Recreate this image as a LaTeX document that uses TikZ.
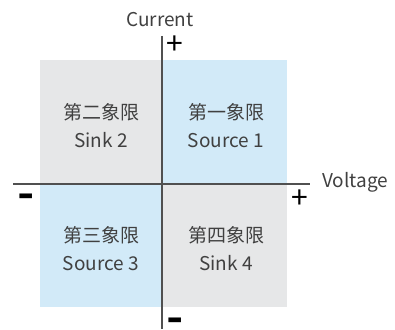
\documentclass[tikz,border=0pt]{standalone}
\usepackage{graphicx}
\usepackage{fontspec}
\setmainfont{Noto Sans CJK SC}
\definecolor{qgray}{HTML}{E6E7E8}
\definecolor{qblue}{HTML}{D2EAF8}
\definecolor{txt}{HTML}{404040}
\definecolor{axis}{HTML}{505050}
\newcommand{\bigminus}{\smash{\raisebox{-13pt}{\scalebox{1}[1.5]{–}}}}
\begin{document}
\begin{tikzpicture}[x=1pt,y=-1pt,
  lbl/.style={text=txt,font=\fontsize{19}{28}\selectfont,inner sep=0pt,align=center},
  plus/.style={text=black,font=\fontsize{30}{30}\selectfont,inner sep=0pt},
  minus/.style={text=black,font=\fontsize{28}{28}\selectfont\bfseries,inner sep=0pt},
  axisline/.style={draw=axis,line width=1.3pt}]
\useasboundingbox (0,0) rectangle (395,329);
\fill[qgray] (40,60) rectangle (162,184);
\fill[qblue] (162,60) rectangle (287,184);
\fill[qblue] (40,184) rectangle (162,307);
\fill[qgray] (162,184) rectangle (287,307);
\coordinate (ytop) at (162,36);
\coordinate (ybot) at (162,329);
\coordinate (xleft) at (13,184);
\coordinate (xright) at (310,184);
\draw[axisline] (ytop) -- (ybot);
\draw[axisline] (xleft) -- (xright);
\node[lbl] (cur) at (160,20) {Current};
\node[lbl] (volt) at (355,182) {Voltage};
\node[plus] (yplus) at (175,45) {+};
\node[plus] (xplus) at (300,199) {+};
\node[minus] (xminus) at (26,195.5) {\bigminus};
\node[minus] (yminus) at (175,319) {\bigminus};
\node[lbl] (q2) at (101,126) {第二象限\\Sink 2};
\node[lbl] (q1) at (226,126) {第一象限\\Source 1};
\node[lbl] (q3) at (101,249) {第三象限\\Source 3};
\node[lbl] (q4) at (226,249) {第四象限\\Sink 4};
\end{tikzpicture}
\end{document}
